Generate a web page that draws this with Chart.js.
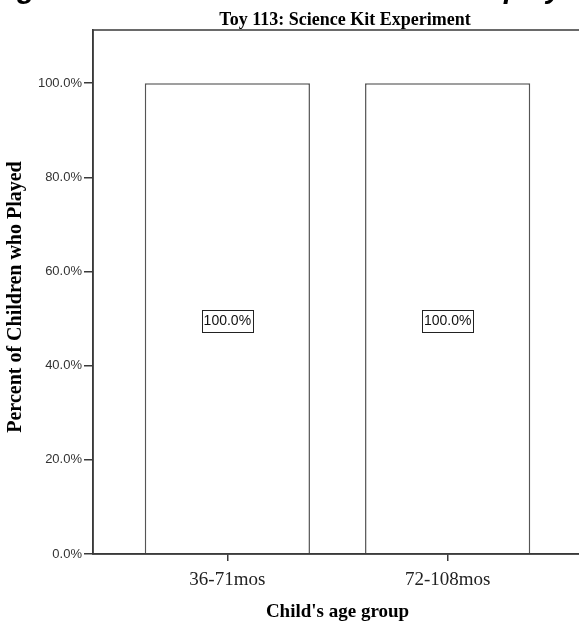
<!DOCTYPE html>
<html>
<head>
<meta charset="utf-8">
<script src="https://cdn.jsdelivr.net/npm/chart.js@4.4.1/dist/chart.umd.min.js"></script>
<style>
  html, body { margin: 0; padding: 0; background: #fff; overflow: hidden; }
  #wrap { width: 600px; height: 623px; }
</style>
</head>
<body>
<div id="wrap"><canvas id="grafica"></canvas></div>
<script>
// datos
const categorias = ['36-71mos', '72-108mos'];
const porcentajeJugaron = [100, 100];
const ticksY = [0, 20, 40, 60, 80, 100];

const tituloCortado = 'among the children who are observed at play';
const tituloToy = 'Toy 113: Science Kit Experiment';
const tituloY = 'Percent of Children who Played';

const lineas = '#3a3a3a';

// marco, titulos y etiquetas de las barras
const extras = {
    id: 'extras',
    afterDraw(chart) {
        const ctx = chart.ctx;
        const a = chart.chartArea;
        const y = chart.scales.y;

        ctx.save();
        ctx.strokeStyle = lineas;
        ctx.lineWidth = 1.5;
        ctx.strokeRect(a.left, a.top, a.right - a.left, a.bottom - a.top);

        // titulo grande cortado arriba
        ctx.fillStyle = '#000';
        ctx.font = 'italic bold 29px "Liberation Sans"';
        ctx.textAlign = 'left';
        ctx.textBaseline = 'alphabetic';
        ctx.fillText(tituloCortado, -60, -2);

        // titulo del grafico
        ctx.font = 'bold 18px "Liberation Serif"';
        ctx.textAlign = 'center';
        ctx.fillText(tituloToy, 345, 25);

        // titulo eje y
        ctx.save();
        ctx.translate(16, 297);
        ctx.rotate(-Math.PI / 2);
        ctx.font = 'bold 20px "Liberation Serif"';
        ctx.textAlign = 'center';
        ctx.textBaseline = 'middle';
        ctx.fillText(tituloY, 0, 0);
        ctx.restore();

        // etiquetas 100.0% con caja
        const meta = chart.getDatasetMeta(0);
        ctx.font = '14px "Liberation Sans"';
        ctx.textAlign = 'center';
        ctx.textBaseline = 'middle';
        meta.data.forEach((bar, i) => {
            const v = porcentajeJugaron[i];
            const texto = v.toFixed(1) + '%';
            const py = y.getPixelForValue(v / 2) + 2;
            const w = Math.round(ctx.measureText(texto).width + 4);
            const h = 22;
            const bx = Math.round(bar.x - w / 2) + 0.5;
            const by = Math.round(py - h / 2) + 0.5;
            ctx.fillStyle = '#fff';
            ctx.fillRect(bx, by, w, h);
            ctx.strokeStyle = '#222';
            ctx.lineWidth = 1;
            ctx.strokeRect(bx, by, w, h);
            ctx.fillStyle = '#111';
            ctx.fillText(texto, bar.x, py + 1);
        });
        ctx.restore();
    }
};

new Chart(document.getElementById('grafica'), {
    type: 'bar',
    data: {
        datasets: [{
            data: categorias.map((c, i) => ({ x: i, y: porcentajeJugaron[i] })),
            backgroundColor: '#ffffff',
            borderColor: '#555555',
            borderWidth: 1.5,
            barPercentage: 0.75,
            categoryPercentage: 1
        }]
    },
    options: {
        responsive: true,
        maintainAspectRatio: false,
        animation: false,
        layout: { padding: { top: 30, right: 18, left: 0, bottom: 0 } },
        plugins: {
            legend: { display: false },
            tooltip: { enabled: false }
        },
        scales: {
            x: {
                type: 'linear',
                min: -0.61,
                max: 1.61,
                offset: false,
                afterBuildTicks: s => { s.ticks = categorias.map((c, i) => ({ value: i })); },
                afterFit: s => { s.height = 69; },
                ticks: {
                    callback: v => categorias[v],
                    font: { family: 'Liberation Serif', size: 19 },
                    color: '#222',
                    padding: 8,
                    maxRotation: 0
                },
                grid: { offset: false, drawOnChartArea: false, tickLength: 7, color: lineas, lineWidth: 1.5 },
                border: { color: lineas, width: 1.5 },
                title: {
                    display: true,
                    text: "Child's age group",
                    font: { family: 'Liberation Serif', size: 19, weight: 'bold' },
                    color: '#000',
                    padding: { top: 0, bottom: 0 }
                }
            },
            y: {
                min: 0,
                max: 111.3,
                afterBuildTicks: s => { s.ticks = ticksY.map(v => ({ value: v })); },
                afterFit: s => { s.width = 93; },
                ticks: {
                    callback: v => v.toFixed(1) + '%',
                    font: { family: 'Liberation Sans', size: 13 },
                    color: '#333',
                    padding: 2
                },
                grid: { drawOnChartArea: false, tickLength: 9, color: lineas, lineWidth: 1.5 },
                border: { color: lineas, width: 1.5 }
            }
        }
    },
    plugins: [extras]
});
</script>
</body>
</html>
